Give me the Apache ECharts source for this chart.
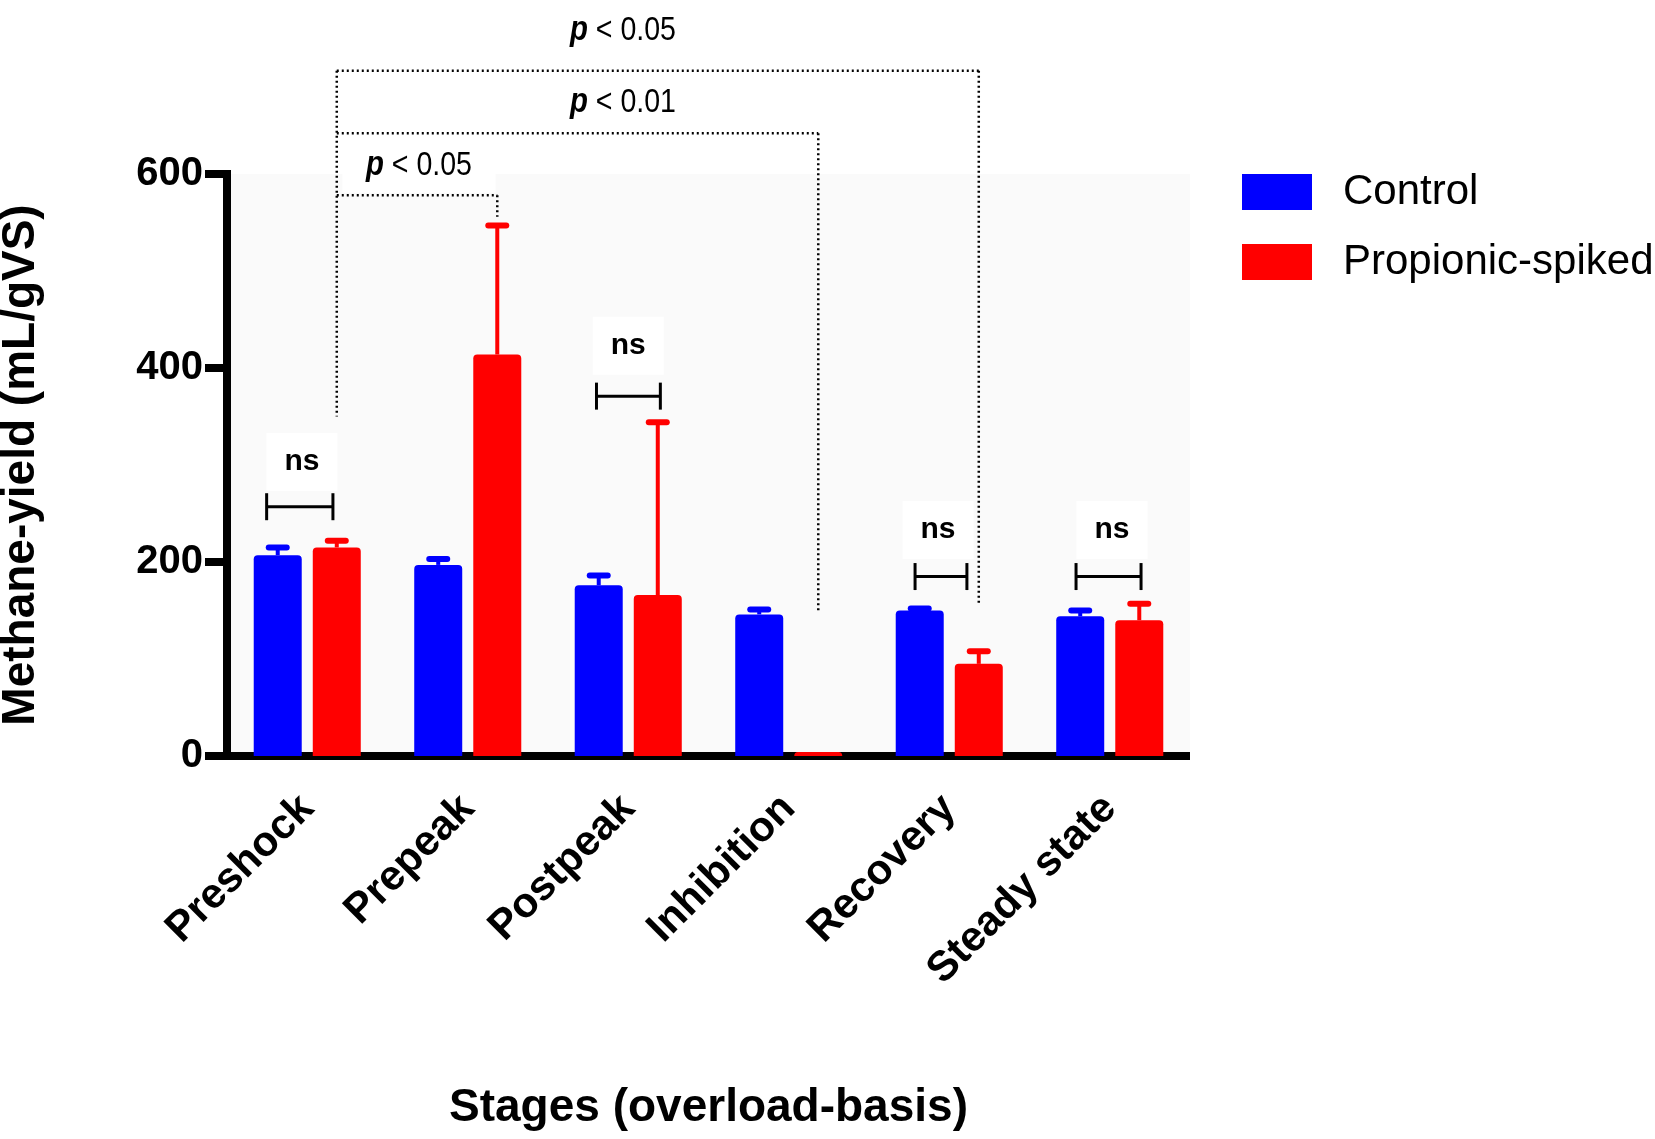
<!DOCTYPE html>
<html><head><meta charset="utf-8">
<script src="https://cdn.jsdelivr.net/npm/echarts@6/dist/echarts.min.js"></script>
<style>html,body{margin:0;padding:0;background:#fff}#c{width:1655px;height:1139px}</style>
</head><body><div id="c"></div>
<script>
// ---------- data ----------
const categories = ['Preshock', 'Prepeak', 'Postpeak', 'Inhibition', 'Recovery', 'Steady state'];
const seriesNames = ['Control', 'Propionic-spiked'];
const controlMean = [207, 197, 176, 146, 150, 144];
const controlErr  = [8, 6, 10, 5, 2, 6];
const spikedMean  = [215, 414, 166, 4, 95, 140];
const spikedErr   = [7, 133, 178, 0, 13, 17];
const yMin = 0, yMax = 600, yStep = 200;

// significance annotations (category units / data units)
// [category, left offset, right offset, bracket value, label offset, label value]
const nsBrackets = [
  [0, -0.253, 0.16, 257, -0.033, 303],
  [2, -0.198, 0.20, 371, 0.0, 423],
  [4, -0.213, 0.11, 185, -0.07, 233],
  [5, -0.21, 0.195, 185, 0.014, 233]
];
const pFromCategory = 0;
const pLeftDropTo = 350;
// [p text, to category, bracket value, drop-to value, label category, label value]
const pBrackets = [
  ['0.05', 1, 578, 556, 0.696, 609],
  ['0.01', 3, 642, 148, 1.967, 674],
  ['0.05', 4, 706.5, 157, 1.967, 748]
];

// ---------- style ----------
const FONT = "'Liberation Sans', Arial, Helvetica, sans-serif";
const BLUE = '#0000ff', RED = '#ff0000';
const BAR_W = 48, BAR_GAP = 0.23;
const OFF = BAR_W * (1 + BAR_GAP) / 2;

function errRender(sign, color) {
  return function (params, api) {
    const c = api.value(0), m = api.value(1), e = api.value(2);
    if (!e) return { type: 'group', children: [] };
    const base = api.coord([c, m]);
    const top = api.coord([c, m + e]);
    const x = base[0] + sign * OFF;
    return {
      type: 'group',
      children: [
        { type: 'line', shape: { x1: x, y1: base[1], x2: x, y2: top[1] }, style: { stroke: color, lineWidth: 4 } },
        { type: 'line', shape: { x1: x - 9, y1: top[1], x2: x + 9, y2: top[1] }, style: { stroke: color, lineWidth: 6, lineCap: 'round' } }
      ]
    };
  };
}

function annRender(params, api) {
  const band = api.size([1, 0])[0];
  const x0 = api.coord([0, 0])[0];
  const X = c => x0 + c * band;
  const Y = v => api.coord([0, v])[1];
  const kids = [];
  const dotted = { stroke: '#000', lineWidth: 2.5, lineDash: [2, 3], fill: null };
  nsBrackets.forEach(b => {
    kids.push({
      type: 'text', x: X(b[0] + b[4]), y: Y(b[5]),
      style: { text: 'ns', fill: '#000', fontFamily: FONT, fontWeight: 'bold', fontSize: 30,
        align: 'center', verticalAlign: 'middle', backgroundColor: '#fff', padding: [14, 18, 14, 18] }
    });
  });
  pBrackets.forEach(b => {
    kids.push({
      type: 'text', x: X(b[4]), y: Y(b[5]), scaleX: 0.84,
      style: { text: '{p|p}{t| < ' + b[0] + '}', fill: '#000', align: 'center', verticalAlign: 'middle',
        backgroundColor: '#fff', padding: [10, 28, 10, 28],
        rich: {
          p: { fontFamily: FONT, fontWeight: 'bold', fontStyle: 'italic', fontSize: 35, fill: '#000' },
          t: { fontFamily: FONT, fontSize: 34, fill: '#000' }
        } }
    });
  });
  nsBrackets.forEach(b => {
    const xl = X(b[0] + b[1]), xr = X(b[0] + b[2]), y = Y(b[3]);
    const s = { stroke: '#000', lineWidth: 3 };
    kids.push({ type: 'line', shape: { x1: xl, y1: y, x2: xr, y2: y }, style: s });
    kids.push({ type: 'line', shape: { x1: xl, y1: y - 13.5, x2: xl, y2: y + 13.5 }, style: s });
    kids.push({ type: 'line', shape: { x1: xr, y1: y - 13.5, x2: xr, y2: y + 13.5 }, style: s });
  });
  const lx = X(pFromCategory) + OFF;
  const topV = Math.max.apply(null, pBrackets.map(b => b[2]));
  kids.push({ type: 'line', shape: { x1: lx, y1: Y(topV), x2: lx, y2: Y(pLeftDropTo) }, style: dotted });
  pBrackets.forEach(b => {
    const rx = X(b[1]) + OFF, y = Y(b[2]);
    kids.push({ type: 'line', shape: { x1: lx, y1: y, x2: rx, y2: y }, style: dotted });
    kids.push({ type: 'line', shape: { x1: rx, y1: y, x2: rx, y2: Y(b[3]) }, style: dotted });
  });
  return { type: 'group', children: kids };
}

const chart = echarts.init(document.getElementById('c'), null, { renderer: 'canvas' });
chart.setOption({
  animation: false,
  backgroundColor: '#fff',
  grid: { left: 227, right: 465, top: 174, bottom: 383, show: true, backgroundColor: '#fafafa', borderWidth: 0, outerBoundsMode: 'none', containLabel: false },
  legend: {
    orient: 'vertical', left: 1242, top: 171, padding: 0,
    itemWidth: 70, itemHeight: 36, itemGap: 28, icon: 'rect',
    selectedMode: false, data: seriesNames,
    textStyle: { fontFamily: FONT, fontSize: 42, color: '#000', lineHeight: 36, padding: [0, 0, 0, 26] }
  },
  xAxis: {
    type: 'category', data: categories,
    axisLine: { lineStyle: { color: '#000', width: 8, cap: 'butt' } },
    axisTick: { alignWithLabel: true, length: 22, lineStyle: { color: '#000', width: 8 } },
    axisLabel: { rotate: 45, margin: 46, interval: 0, fontSize: 42, fontWeight: 'bold', color: '#000', fontFamily: FONT },
    name: 'Stages (overload-basis)', nameLocation: 'middle', nameGap: 329,
    nameTextStyle: { fontSize: 46, fontWeight: 'bold', color: '#000', fontFamily: FONT }
  },
  yAxis: {
    type: 'value', min: yMin, max: yMax, interval: yStep,
    axisLine: { show: true, lineStyle: { color: '#000', width: 8, cap: 'square' } },
    axisTick: { show: true, length: 22, lineStyle: { color: '#000', width: 8 } },
    axisLabel: { margin: 24, fontSize: 40, fontWeight: 'bold', color: '#000', fontFamily: FONT },
    splitLine: { show: false },
    name: 'Methane-yield (mL/gVS)', nameLocation: 'middle', nameGap: 183,
    nameTextStyle: { fontSize: 46, fontWeight: 'bold', color: '#000', fontFamily: FONT }
  },
  series: [
    { name: seriesNames[0], type: 'bar', data: controlMean, barWidth: BAR_W, barGap: (BAR_GAP * 100) + '%',
      itemStyle: { color: BLUE, borderRadius: [4, 4, 0, 0] } },
    { name: seriesNames[1], type: 'bar', data: spikedMean, barWidth: BAR_W, barGap: (BAR_GAP * 100) + '%',
      itemStyle: { color: RED, borderRadius: [4, 4, 0, 0] } },
    { name: 'Control error', type: 'custom', renderItem: errRender(-1, BLUE), z: 3, silent: true,
      encode: { x: 0, y: 1 }, data: categories.map((_, i) => [i, controlMean[i], controlErr[i]]) },
    { name: 'Spiked error', type: 'custom', renderItem: errRender(1, RED), z: 3, silent: true,
      encode: { x: 0, y: 1 }, data: categories.map((_, i) => [i, spikedMean[i], spikedErr[i]]) },
    { name: 'Significance', type: 'custom', renderItem: annRender, z: 4, silent: true, clip: false,
      encode: { x: 0, y: 1 }, data: [[0, 0]] }
  ]
});
</script>
</body></html>
